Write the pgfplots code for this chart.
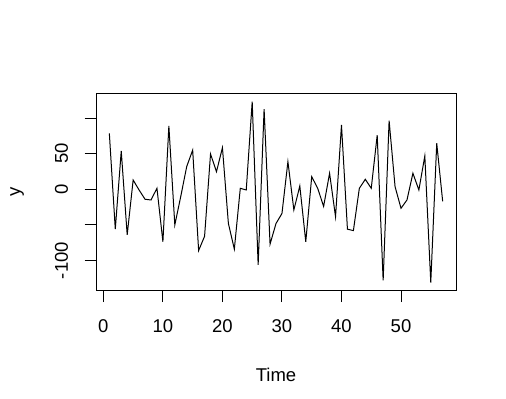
\documentclass[border=0pt]{standalone}
\usepackage{pgfplots}
\pgfplotsset{compat=1.18}
\usepackage{fontspec}
\setmainfont{Liberation Sans}
\begin{document}
\begin{tikzpicture}[x=1bp,y=1bp]
\useasboundingbox (0,0) rectangle (506,398);
\begin{axis}[
  at={(96bp,107.3bp)}, anchor=south west,
  scale only axis, width=360bp, height=196.7bp,
  xmin=-1.24, xmax=59.24, ymin=-142.4, ymax=133.8,
  axis line style={black, line width=1bp},
  tick style={black, line width=1bp},
  tick align=outside, tick pos=left,
  major tick length=11.5bp,
  xtick={0,10,20,30,40,50},
  xticklabels={0,10,20,30,40,50},
  ytick={-100,-50,0,50,100},
  yticklabels={-100,,0,50,},
  xticklabel style={font=\fontsize{18.5bp}{22bp}\selectfont, anchor=center, yshift=-24bp},
  yticklabel style={font=\fontsize{18.5bp}{22bp}\selectfont, anchor=center, xshift=-23bp, rotate=90},
  xlabel={Time}, ylabel={y},
  xlabel style={font=\fontsize{18.5bp}{22bp}\selectfont, at={(axis description cs:0.5,-0.427)}, anchor=center},
  ylabel style={font=\fontsize{18.5bp}{22bp}\selectfont, at={(axis description cs:-0.219,0.5)}, anchor=center},
  clip=false,
]
\addplot[black, line width=1bp] coordinates {
(1,78.6) (2,-56) (3,53.8) (4,-64) (5,13) (6,-1) (7,-14) (8,-15) (9,1.4) (10,-73.6)
(11,89) (12,-50) (13,-10) (14,32) (15,55) (16,-86) (17,-66) (18,49.6) (19,24.7) (20,58.4)
(21,-48) (22,-84) (23,1.4) (24,-1) (25,123) (26,-106) (27,112.7) (28,-77) (29,-48) (30,-34)
(31,38.8) (32,-29) (33,4.6) (34,-73.6) (35,17.7) (36,1.4) (37,-24) (38,22.5) (39,-38.5) (40,90.3)
(41,-56) (42,-58) (43,1.4) (44,14) (45,1.4) (46,76) (47,-128) (48,96.4) (49,3.7) (50,-26.7)
(51,-15) (52,22.5) (53,-1) (54,46.8) (55,-131) (56,64.6) (57,-17)
};
\end{axis}
\end{tikzpicture}
\end{document}
